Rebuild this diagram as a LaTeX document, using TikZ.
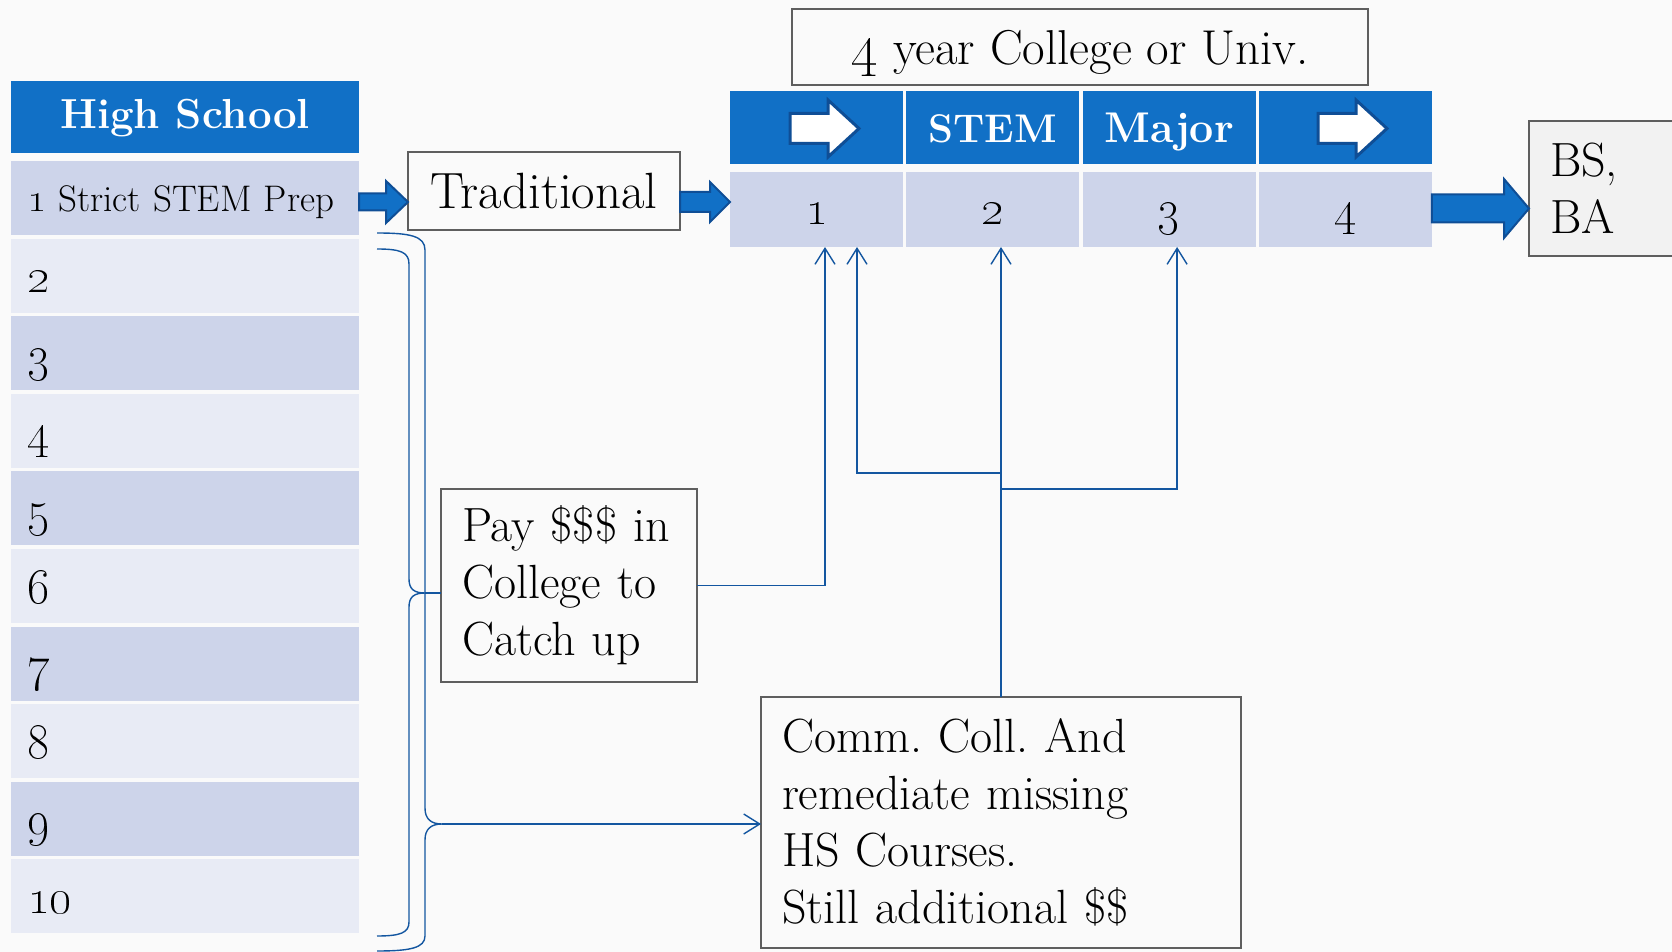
\documentclass[tikz,border=0pt]{standalone}
\usetikzlibrary{arrows.meta,calc}
\definecolor{hblue}{HTML}{1170C6}
\definecolor{rowdark}{HTML}{CDD4EA}
\definecolor{rowlight}{HTML}{E8EBF5}
\definecolor{adark}{HTML}{0F4E96}
\definecolor{lblue}{HTML}{1356A0}
\definecolor{bgray}{HTML}{5E5E5E}
\definecolor{bsfill}{HTML}{F2F2F2}
\definecolor{bgcol}{HTML}{FAFAFA}
\newcommand\myblockarrow[6][]{%
  \draw[blockarrow,#1] let \p1=#2, \p2=#3 in
   (\x1,\y1+#4) -- (\x2-#6,\y1+#4) -- (\x2-#6,\y1+#5) -- (\x2,\y1)
   -- (\x2-#6,\y1-#5) -- (\x2-#6,\y1-#4) -- (\x1,\y1-#4) -- cycle;}
\frenchspacing
\begin{document}
\begin{tikzpicture}[x=0.5pt,y=-0.5pt,
  bigfont/.style={font=\fontsize{24}{28.5}\selectfont},
  hcell/.style={anchor=north west, inner sep=0pt, outer sep=0pt, fill=hblue, text=white,
    font=\bfseries\fontsize{20}{24}\selectfont},
  rowbase/.style={anchor=north west, inner ysep=0pt, inner xsep=8pt, outer sep=0pt,
    text width=158pt, align=left, minimum height=37pt,
    font=\fontsize{25}{28}\selectfont, text height=17.5pt, text depth=0.5pt},
  drow/.style={rowbase, fill=rowdark},
  lrow/.style={rowbase, fill=rowlight},
  ncell/.style={anchor=north west, inner sep=0pt, outer sep=0pt, fill=rowdark,
    minimum width=86.5pt, minimum height=37.5pt,
    font=\fontsize{25}{28}\selectfont, text height=16pt, text depth=0.5pt},
  tbox/.style={anchor=north west, draw=bgray, line width=1pt, inner sep=0pt, outer sep=0pt},
  blockarrow/.style={fill=hblue, draw=adark, line width=1pt, line join=miter},
  whitearrow/.style={fill=white, draw=adark, line width=1.5pt, line join=miter},
  conn/.style={draw=lblue, line width=0.7pt},
  tip/.style={-{Straight Barb[length=8pt,width=10pt]}}
]
\useasboundingbox (0,0) rectangle (1672,952);
\fill[bgcol] (0,0) rectangle (1672,952);

% High school column
\node[hcell, minimum width=174pt, minimum height=36pt, text height=12.5pt, text depth=0.5pt,
  font=\bfseries\fontsize{21}{25}\selectfont] (hs) at (11,81) {High School};
\node[drow, font=\fontsize{18.5}{22}\selectfont, text height=14.5pt] (r1) at (11,161) {{\fontsize{22}{22}\selectfont\oldstylenums{1}} Strict STEM Prep};
\node[lrow] (r2) at (11,238.6) {\oldstylenums{2}};
\node[drow] (r3) at (11,316.2) {\oldstylenums{3}};
\node[lrow] (r4) at (11,393.8) {\oldstylenums{4}};
\node[drow] (r5) at (11,471.4) {\oldstylenums{5}};
\node[lrow] (r6) at (11,549) {\oldstylenums{6}};
\node[drow] (r7) at (11,626.6) {\oldstylenums{7}};
\node[lrow] (r8) at (11,704.2) {\oldstylenums{8}};
\node[drow] (r9) at (11,781.8) {\oldstylenums{9}};
\node[lrow] (r10) at (11,859.4) {\oldstylenums{10}};

% Traditional
\node[tbox, minimum width=136pt, minimum height=39pt, font=\fontsize{25.5}{29}\selectfont] (trad) at (408,152) {Traditional};

% University
\node[tbox, minimum width=288pt, minimum height=38pt, font=\fontsize{24.5}{28}\selectfont,
  text height=18pt, text depth=0.5pt] (univ) at (792,9) {{\fontsize{28}{28}\selectfont\oldstylenums{4}} year College or Univ.};
\node[hcell, minimum width=86.5pt, minimum height=36.5pt] (h1) at (730,91) {};
\node[hcell, minimum width=86.5pt, minimum height=36.5pt, text height=16pt, text depth=0.5pt] (h2) at (906.3,91) {STEM};
\node[hcell, minimum width=86.5pt, minimum height=36.5pt, text height=16pt, text depth=0.5pt,
  font=\bfseries\fontsize{21.5}{24}\selectfont] (h3) at (1082.6,91) {Major};
\node[hcell, minimum width=86.5pt, minimum height=36.5pt] (h4) at (1258.9,91) {};
\node[ncell] (n1) at (730,172) {\oldstylenums{1}};
\node[ncell] (n2) at (906.3,172) {\oldstylenums{2}};
\node[ncell] (n3) at (1082.6,172) {\oldstylenums{3}};
\node[ncell] (n4) at (1258.9,172) {\oldstylenums{4}};

% BS BA
\node[tbox, fill=bsfill, minimum height=67.5pt, text width=55pt, inner xsep=10.5pt,
  align=left, bigfont] (bs) at (1529,121) {BS,\\BA};

% Pay box
\node[tbox, minimum height=96.5pt, text width=107pt, inner xsep=10.5pt, align=left, bigfont]
  (pay) at (441,489) {\mbox{Pay \$\$\$ in}\\College to\\Catch up};

% Comm box
\node[tbox, minimum height=125.5pt, text width=219pt, inner xsep=10.5pt, align=left, bigfont]
  (comm) at (761,697) {Comm. Coll. And\\remediate missing\\HS Courses.\\Still additional \$\$};

% block arrows
\myblockarrow{($(r1.east)+(0,4)$)}{(trad.west)}{4.25pt}{10.5pt}{11pt}
\myblockarrow{($(trad.east)+(0,11)$)}{(n1.west)}{5pt}{10pt}{10pt}
\myblockarrow{($(n4.east)+(0,-1)$)}{(bs.west)}{7pt}{14.75pt}{12.5pt}
\myblockarrow[whitearrow]{($(h1.center)+(-26.5,1)$)}{($(h1.center)+(42.5,1)$)}{7.5pt}{14.25pt}{15.5pt}
\myblockarrow[whitearrow]{($(h4.center)+(-27.4,1)$)}{($(h4.center)+(41.6,1)$)}{7.5pt}{14.25pt}{15.5pt}

% braces
\coordinate (ibt) at (425,593);
\coordinate (obt) at (442,824);
\draw[conn] (377,249) .. controls (400,249) and (409,252) .. (409,264) -- (409,579)
  .. controls (409,589) and (414,593) .. (ibt)
  .. controls (414,593) and (409,597) .. (409,607) -- (409,922)
  .. controls (409,933) and (400,936) .. (377,936);
\draw[conn] (377,233) .. controls (410,233) and (425,236) .. (425,250) -- (425,808)
  .. controls (425,819) and (431,824) .. (obt)
  .. controls (431,824) and (425,829) .. (425,840) -- (425,936)
  .. controls (425,948) and (410,951) .. (377,951);
\draw[conn] (ibt) -- (ibt -| pay.west);
\draw[conn, tip] (obt) -- (obt -| comm.west);

% connectors to university years
\coordinate (j1) at ($(comm.north)+(0,-224)$);
\coordinate (j2) at ($(comm.north)+(0,-208)$);
\draw[conn, tip] (pay.east) -| ($(n1.south)+(8.5,0)$);
\draw[conn, tip] (comm.north) -- (comm.north |- n2.south);
\draw[conn, tip] (j1) -| ($(n1.south)+(40.5,0)$);
\draw[conn, tip] (j2) -| ($(n3.south)+(8,0)$);
\end{tikzpicture}
\end{document}
